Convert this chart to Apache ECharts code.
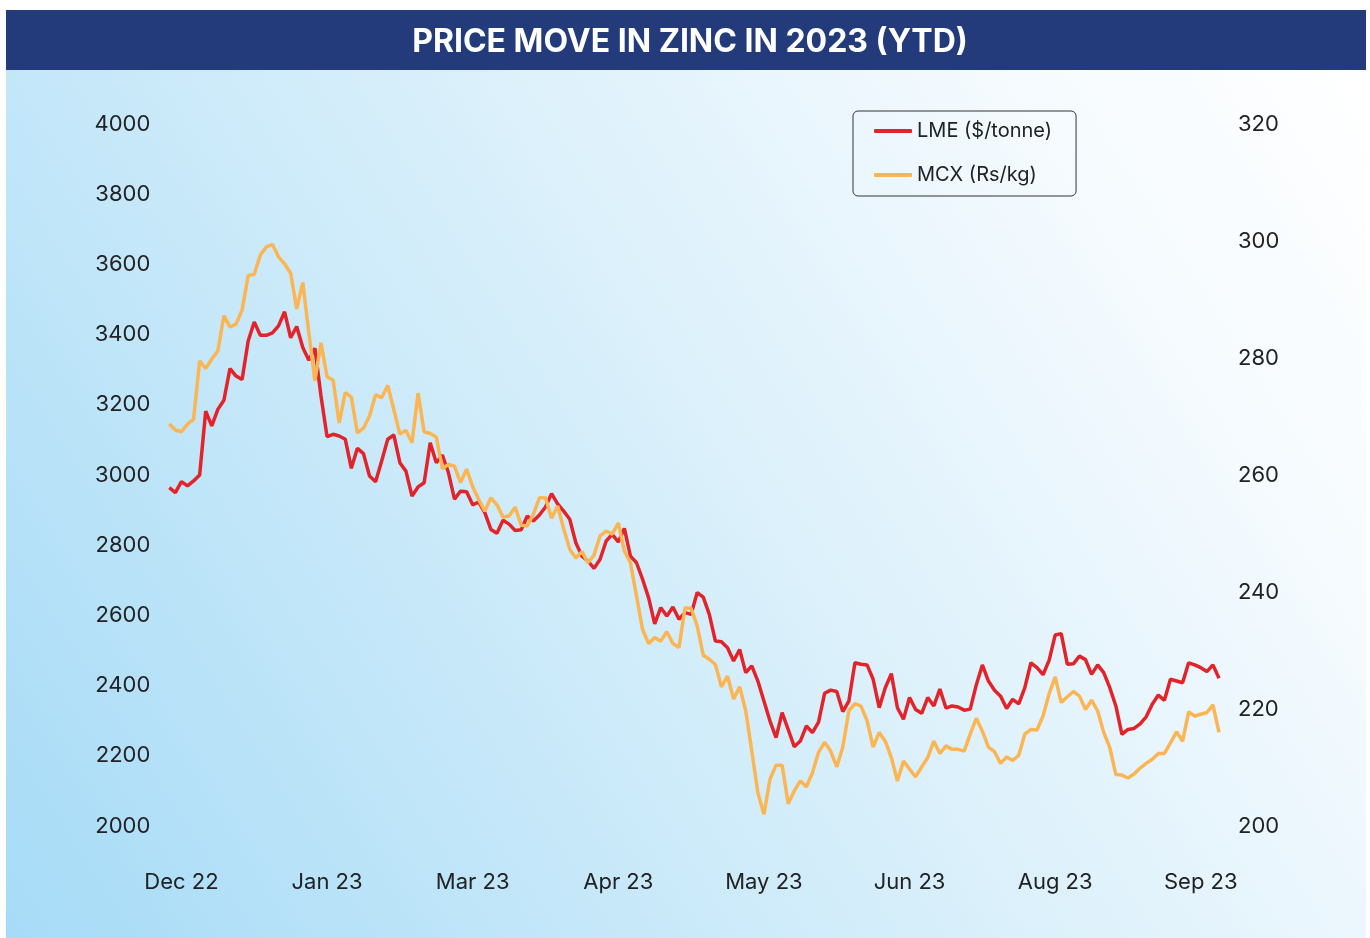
<!DOCTYPE html>
<html>
<head>
<meta charset="utf-8">
<script src="https://cdn.jsdelivr.net/npm/echarts@6/dist/echarts.min.js"></script>
<style>
html,body{margin:0;padding:0;background:#ffffff;}
#chart{width:1370px;height:938px;}
</style>
</head>
<body>
<div id="chart"></div>
<script>
const titleText = 'PRICE MOVE IN ZINC IN 2023 (YTD)';
const seriesNames = ['LME ($/tonne)', 'MCX (Rs/kg)'];
const tickLabels = ['Dec 22','Jan 23','Mar 23','Apr 23','May 23','Jun 23','Aug 23','Sep 23'];
const tickIndex = [2, 26, 50, 74, 98, 122, 146, 170];

const lme = [
2964,2950,2981,2969,2983,3000,3182,3140,3187,3213,
3303,3282,3272,3382,3436,3398,3398,3405,3425,3465,
3391,3423,3363,3327,3361,3225,3109,3116,3111,3102,
3019,3076,3061,2997,2981,3040,3102,3114,3035,3011,
2940,2966,2978,3092,3035,3057,3007,2931,2954,2952,
2915,2923,2893,2845,2834,2871,2860,2842,2844,2883,
2869,2886,2909,2947,2918,2897,2874,2807,2769,2755,
2734,2760,2812,2831,2809,2848,2769,2750,2703,2650,
2576,2622,2598,2624,2589,2608,2603,2665,2652,2603,
2527,2525,2508,2470,2503,2437,2456,2413,2356,2299,
2252,2323,2275,2226,2242,2285,2266,2296,2378,2387,
2383,2326,2356,2465,2461,2459,2418,2337,2394,2434,
2337,2304,2366,2332,2321,2366,2342,2390,2336,2342,
2339,2330,2333,2402,2459,2413,2387,2370,2335,2361,
2348,2394,2465,2451,2431,2472,2544,2548,2461,2462,
2484,2474,2432,2459,2437,2394,2342,2261,2275,2278,
2291,2311,2347,2373,2358,2418,2413,2408,2465,2459,
2451,2440,2459,2421
];

const mcx = [
268.7,267.7,267.4,268.7,269.5,279.5,278.2,279.8,281.2,287.2,
285.3,285.8,288.2,294.1,294.3,297.6,299.0,299.4,297.3,296.1,
294.5,288.4,292.9,284.3,276.1,282.6,276.8,276.2,268.9,274.1,
273.3,267.2,268.0,270.1,273.7,273.2,275.3,271.2,267.0,267.6,
265.5,274.0,267.4,267.1,266.5,261.1,261.8,261.5,258.7,261.0,
258.0,255.8,253.8,256.1,254.9,252.8,253.0,254.5,251.4,251.3,
253.3,256.1,256.1,252.6,254.7,250.8,247.3,245.8,246.9,245.0,
246.3,249.6,250.4,249.9,251.8,247.0,245.0,239.3,233.6,231.2,
232.2,231.6,233.2,231.2,230.5,237.3,237.2,234.2,229.2,228.5,
227.6,223.8,225.6,221.7,223.8,219.7,212.8,205.7,202.0,208.0,
210.4,210.4,203.8,206.0,207.7,206.7,209.1,212.6,214.3,212.8,
210.1,213.5,219.7,220.9,220.5,218.0,213.5,216.0,214.5,211.7,
207.7,211.1,209.7,208.4,210.1,211.7,214.5,212.4,213.7,213.1,
213.1,212.8,215.7,218.4,216.2,213.5,212.7,210.7,211.8,211.2,
212.1,215.7,216.5,216.4,218.8,222.6,225.5,221.1,222.1,223.0,
222.2,219.9,221.5,219.7,216.0,213.4,208.8,208.7,208.2,208.9,
209.9,210.7,211.4,212.4,212.4,214.2,216.1,214.5,219.5,218.8,
219.1,219.4,220.7,216.0
];

const categories = lme.map((_, i) => String(i));
const labelAt = {};
tickIndex.forEach((idx, k) => { labelAt[idx] = tickLabels[k]; });

const FONT = 'Inter, "Noto Sans", sans-serif';
const chart = echarts.init(document.getElementById('chart'));

const option = {
  animation: false,
  textStyle: { fontFamily: FONT },
  graphic: [
    {
      type: 'rect', z: -10, silent: true,
      shape: { x: 6, y: 70, width: 1360, height: 868 },
      style: {
        fill: new echarts.graphic.LinearGradient(0, 1, 1, 0, [
          { offset: 0, color: '#a6dbf7' },
          { offset: 0.45, color: '#d3edfa' },
          { offset: 0.8, color: '#f4fafe' },
          { offset: 1, color: '#ffffff' }
        ])
      }
    },
    {
      type: 'rect', z: -10, silent: true,
      shape: { x: 6, y: 10, width: 1360, height: 60 },
      style: { fill: '#233b7a' }
    }
  ],
  title: {
    text: titleText,
    left: 690,
    top: 23,
    textAlign: 'center',
    padding: 0,
    textStyle: {
      color: '#ffffff', fontSize: 32, fontWeight: 'bold',
      fontFamily: FONT, lineHeight: 38
    }
  },
  legend: {
    data: seriesNames,
    orient: 'vertical',
    left: 853,
    top: 111,
    padding: [9, 24, 10, 21],
    itemGap: 22,
    itemWidth: 38,
    itemHeight: 4,
    icon: 'roundRect',
    borderColor: '#333333',
    borderWidth: 1,
    borderRadius: 5,
    textStyle: { fontSize: 20, color: '#222222', fontFamily: FONT, lineHeight: 22 }
  },
  grid: { left: 169.3, right: 151, top: 124, bottom: 112, containLabel: false },
  xAxis: {
    type: 'category',
    data: categories,
    boundaryGap: false,
    axisLine: { show: false },
    axisTick: { show: false },
    splitLine: { show: false },
    axisLabel: {
      interval: (idx) => labelAt[idx] !== undefined,
      formatter: (v, idx) => labelAt[idx] || '',
      fontSize: 22, color: '#222222', fontFamily: FONT, margin: 45, lineHeight: 22
    }
  },
  yAxis: [
    {
      type: 'value', min: 2000, max: 4000, interval: 200,
      axisLine: { show: false }, axisTick: { show: false }, splitLine: { show: false },
      axisLabel: { fontSize: 22, color: '#222222', fontFamily: FONT, margin: 19, formatter: (v) => String(v) }
    },
    {
      type: 'value', min: 200, max: 320, interval: 20, position: 'right',
      axisLine: { show: false }, axisTick: { show: false }, splitLine: { show: false },
      axisLabel: { fontSize: 22, color: '#222222', fontFamily: FONT, margin: 19, formatter: (v) => String(v) }
    }
  ],
  series: [
    {
      name: seriesNames[0], type: 'line', yAxisIndex: 0, data: lme,
      symbol: 'none', lineStyle: { width: 3.5, color: '#e2242a' },
      itemStyle: { color: '#e2242a' }
    },
    {
      name: seriesNames[1], type: 'line', yAxisIndex: 1, data: mcx,
      symbol: 'none', lineStyle: { width: 3.5, color: '#fbb552' },
      itemStyle: { color: '#fbb552' }
    }
  ]
};
chart.setOption(option);
</script>
</body>
</html>
